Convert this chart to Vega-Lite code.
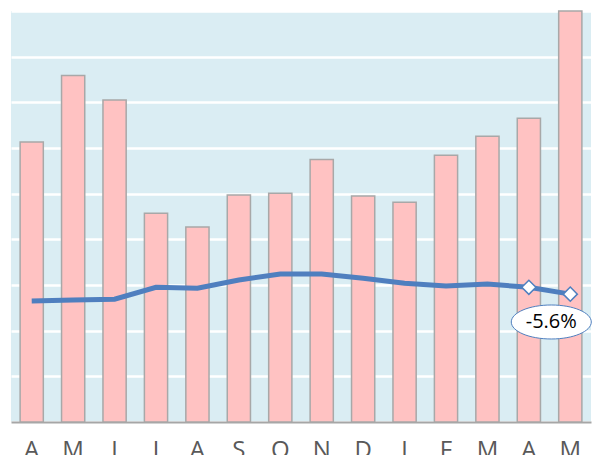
{
  "$schema": "https://vega.github.io/schema/vega-lite/v6.json",
  "width": 580,
  "height": 411,
  "autosize": "none",
  "padding": {"left": 11, "top": 11, "right": 12, "bottom": 33},
  "background": "white",
  "config": {"view": {"fill": "#daedf3", "stroke": null}},
  "datasets": {
    "main": [
      {"m": "Apr1", "bar": 6.13, "line": 2.65, "mark": false},
      {"m": "May1", "bar": 7.59, "line": 2.67, "mark": false},
      {"m": "Jun", "bar": 7.05, "line": 2.69, "mark": false},
      {"m": "Jul", "bar": 4.57, "line": 2.95, "mark": false},
      {"m": "Aug", "bar": 4.27, "line": 2.93, "mark": false},
      {"m": "Sep", "bar": 4.97, "line": 3.11, "mark": false},
      {"m": "Oct", "bar": 5.01, "line": 3.24, "mark": false},
      {"m": "Nov", "bar": 5.75, "line": 3.24, "mark": false},
      {"m": "Dec", "bar": 4.95, "line": 3.15, "mark": false},
      {"m": "Jan", "bar": 4.81, "line": 3.04, "mark": false},
      {"m": "Feb", "bar": 5.84, "line": 2.98, "mark": false},
      {"m": "Mar", "bar": 6.26, "line": 3.02, "mark": false},
      {"m": "Apr2", "bar": 6.65, "line": 2.95, "mark": true},
      {"m": "May2", "bar": 9.0, "line": 2.8, "mark": true}
    ],
    "label": [
      {"m": "May2", "y": 2.19, "text": "-5.6%"}
    ]
  },
  "encoding": {
    "x": {
      "field": "m", "type": "nominal", "sort": null,
      "scale": {"paddingInner": 0.44, "paddingOuter": 0.22},
      "axis": {
        "title": null, "labelAngle": 0, "ticks": false,
        "domainColor": "#a6a6a6", "domainWidth": 2,
        "labelFontSize": 24, "labelFont": "Open Sans", "labelColor": "#595959",
        "labelPadding": 16,
        "labelExpr": "substring(datum.label, 0, 1)"
      }
    }
  },
  "layer": [
    {
      "data": {"name": "main"},
      "mark": {"type": "bar", "fill": "#ffc2c2", "stroke": "#a8a8a8", "strokeWidth": 1.5},
      "encoding": {
        "y": {
          "field": "bar", "type": "quantitative",
          "scale": {"domain": [0, 9], "nice": false},
          "axis": {
            "title": null, "labels": false, "ticks": false, "domain": false,
            "values": [0, 1, 2, 3, 4, 5, 6, 7, 8, 9],
            "grid": true, "gridColor": "white", "gridWidth": 2.5
          }
        }
      }
    },
    {
      "data": {"name": "main"},
      "mark": {"type": "line", "color": "#4f7fbf", "strokeWidth": 5},
      "encoding": {"y": {"field": "line", "type": "quantitative"}}
    },
    {
      "data": {"name": "main"},
      "transform": [{"filter": "datum.mark"}],
      "mark": {"type": "point", "shape": "diamond", "filled": true, "fill": "white", "stroke": "#4f7fbf", "strokeWidth": 1.5, "size": 200, "opacity": 1},
      "encoding": {"y": {"field": "line", "type": "quantitative"}}
    },
    {
      "data": {"name": "label"},
      "mark": {"type": "point", "shape": "M-1,0 A1,0.425 0 1,0 1,0 A1,0.425 0 1,0 -1,0 Z", "filled": true, "fill": "white", "stroke": "#4f7fbf", "strokeWidth": 1, "size": 6400, "opacity": 1, "xOffset": -19},
      "encoding": {"y": {"field": "y", "type": "quantitative"}}
    },
    {
      "data": {"name": "label"},
      "mark": {"type": "text", "fontSize": 20, "font": "Open Sans", "color": "black", "xOffset": -19, "baseline": "middle"},
      "encoding": {"y": {"field": "y", "type": "quantitative"}, "text": {"field": "text"}}
    }
  ]
}
